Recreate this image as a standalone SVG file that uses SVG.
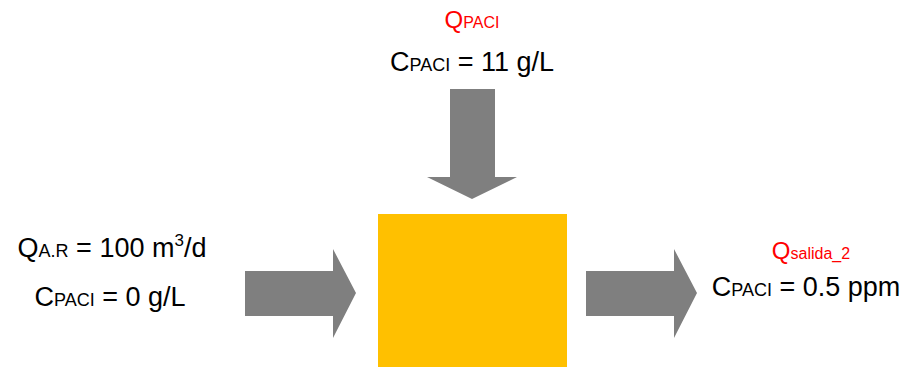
<svg xmlns="http://www.w3.org/2000/svg" width="909" height="367" viewBox="0 0 909 367">
<style>
.t{font-family:"Liberation Sans","Open Sans",sans-serif;fill:#000;text-anchor:middle}
.m{font-size:27px}
.r{fill:#ff0000;font-size:24px}
.s{font-size:18px}
.rs{font-size:16px}
.arrow{fill:#7f7f7f}
</style>
<rect width="909" height="367" fill="#fff"/>
<g id="tank"><rect x="378" y="214" width="189" height="153" fill="#ffc000"/></g>
<g id="connectors">
<polygon class="arrow" points="450,89 495,89 495,177 517,177 472,199 427,177 450,177"/>
<polygon class="arrow" points="245,271 333,271 333,249 356,293 333,338 333,316 245,316"/>
<polygon class="arrow" points="586,271 674,271 674,249 697,293 674,338 674,316 586,316"/>
</g>
<g id="top-label">
<text class="t r" x="472" y="28">Q<tspan class="rs">PACI</tspan></text>
<text class="t m" x="472" y="71">C<tspan class="s">PACI</tspan> = 11 g/L</text>
</g>
<g id="left-label">
<text class="t m" x="112" y="257">Q<tspan class="s">A.R</tspan> = 100 m<tspan font-size="17" dy="-11">3</tspan><tspan dy="11">/d</tspan></text>
<text class="t m" x="110" y="306">C<tspan class="s">PACI</tspan> = 0 g/L</text>
</g>
<g id="right-label">
<text class="t r" x="811" y="259">Q<tspan class="rs">salida_2</tspan></text>
<text class="t m" x="806" y="296">C<tspan class="s">PACI</tspan> = 0.5 ppm</text>
</g>
</svg>
